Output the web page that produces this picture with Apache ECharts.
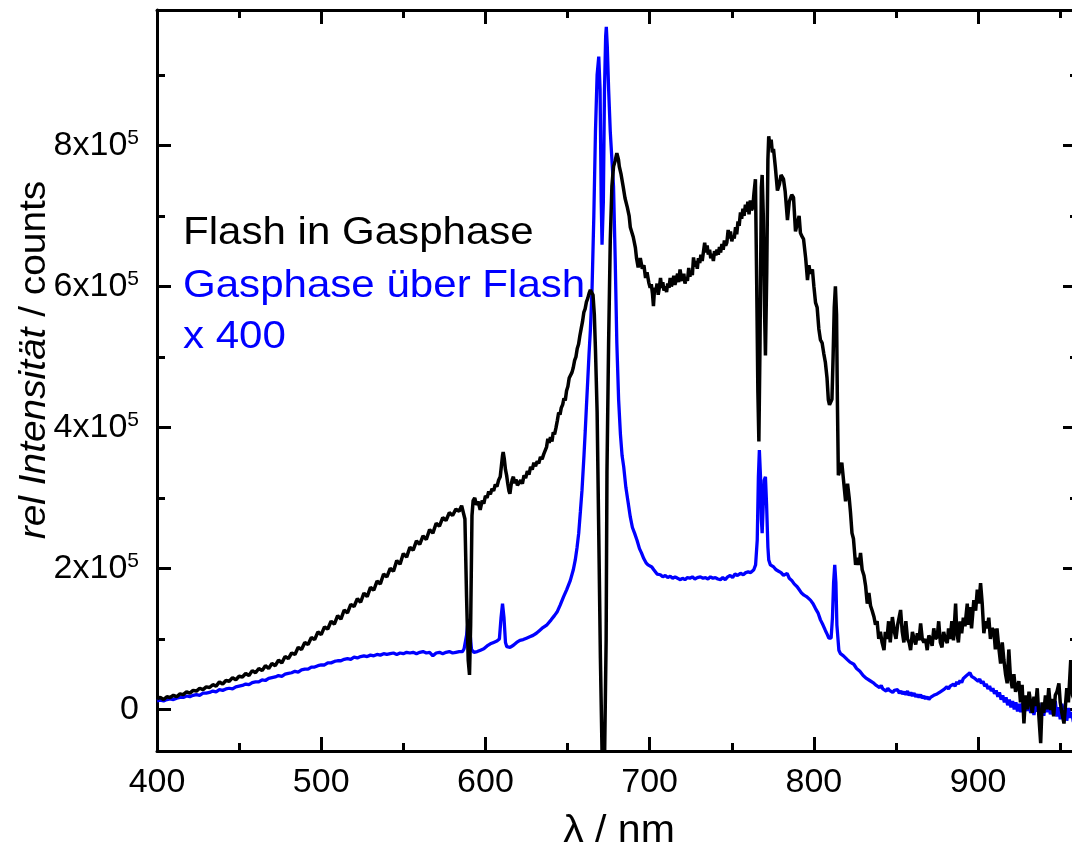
<!DOCTYPE html>
<html>
<head>
<meta charset="utf-8">
<script src="https://cdn.jsdelivr.net/npm/echarts@6/dist/echarts.min.js"></script>
<style>
  html, body { margin: 0; padding: 0; background: #fff; }
  #chart { width: 1072px; height: 855px; }
</style>
</head>
<body>
<div id="chart"></div>
<script>
// Emission spectra, intensity in units of 10^3 counts, wavelength in nm.

// "Flash in Gasphase" (black)
const wlFlash = [
  400,402,404,406,408,410,412,414,416,418,420,422,424,426,428,430,432,434,436,438,440,442,444,446,448,450,452,454,456,458,
  460,462,464,466,468,470,472,474,476,478,480,482,484,486,488,490,492,494,496,498,500,502,504,506,508,510,512,514,516,518,
  520,522,524,526,528,530,532,534,536,538,540,542,544,546,548,550,552,554,556,558,560,562,564,566,568,570,572,574,576,578,
  580,582,584,585.5,586.7,587.5,588.5,589.5,590.3,591,591.8,592.5,593.5,594.5,595.5,596.8,598,599,600,601,602,603,604,605,606,607,608,609,609.7,610.4,
  610.8,611.5,612.2,612.9,613.6,614.3,614.9,615.6,616.3,617,617.8,618.6,619.5,620.5,621.5,622.5,623.5,624.5,625.5,626.5,627.5,628.5,629.5,630.5,631.5,632.5,633.5,634.5,635.5,636.4,
  637.2,638,638.8,639.6,640.5,641.3,642.1,643,643.8,644.6,645.4,646.2,647,647.8,648.6,649.4,650.2,651,651.8,652.7,653.5,654.3,655.1,655.9,656.7,657.5,658.3,659.1,659.9,660.7,
  661.5,662.3,663.1,663.9,664.7,665.5,666.3,667,668,669,670,671,671.8,672.8,673.5,674,675,676,677,678,679,680,681,681.5,682.5,683.9,685,686.4,687.5,688.2,
  690,691.3,692,693,694.3,695.5,696.5,697.5,698.4,699.5,700.3,701,701.7,702.3,703,703.7,704.5,705.2,706,706.6,707.3,708,708.7,709.5,710.3,711,711.8,712.5,713.2,714,
  714.7,715.4,716.2,717,717.7,718.5,719.3,720,720.8,721.5,722.3,723,723.8,724.5,725.3,726,726.7,727.4,728.2,729,729.7,730.5,731.2,732,732.8,733.5,734.2,735,735.7,736.5,
  737.2,738,738.8,739.5,740.3,741,741.8,742.5,743.2,744,744.8,745.5,746.3,747,747.8,748.5,749.2,750,750.8,751.5,752.3,753,753.8,754.5,755.3,756,756.8,757.5,758.3,759,
  759.8,760.5,761.3,762,762.8,763.5,764.4,765.2,765.9,766.5,767.2,768,768.5,769.2,770,770.5,771.3,772,772.5,773.2,774,774.7,775.4,776.5,777.8,779,780,781.5,782.5,783.9,
  785,786.5,787.6,788.8,790,791,791.8,792.5,793.7,795,796.1,797,797.8,799.1,800,801,802,803,804,805,806,807,808,808.8,809.5,810.1,811,811.7,812.4,813.1,
  813.8,814.3,814.9,816,817,818,819.3,820.5,821.5,822.3,823.2,824.1,825.4,826.5,827.5,828.4,829.4,830.5,831.5,832.5,833.5,834.5,835.5,836.6,837.5,838.5,839.5,840.5,841.5,842.7,
  843.5,844.5,845.5,846.5,847.8,849,850,851,852.8,853.8,854.8,856,857,858,858.9,860,861,862,863,864,865,866,867,868,869,870,871,872,873,874,
  875.1,876,877,878,879,880,881.2,882,883,884,885,886.3,887,888,889,890,891,892,893.4,894,895,896,897.4,898.5,899.5,900.5,901.5,902.5,903.5,904.5,
  905.5,906.5,907.5,908.5,909.6,910.5,911.5,912.5,913.7,914.7,915.7,916.7,917.7,918.7,919.7,920.8,921.8,922.8,923.8,924.8,925.8,926.8,927.9,928.9,930,931,932,933,934,935,
  936,937,938.1,939,940,941,942,943,944.2,945,946,947,948,949.2,950,951,952.3,953,954,955,956.4,957.5,959
];
const flashK = [
  15,17,14,18,17,20,18,22,21,25,23,27,26,30,28,32,31,35,33,39,36,41,40,45,42,47,46,51,48,55,
  52,58,55,62,58,65,62,70,66,75,72,80,78,88,85,95,92,102,99,110,106,117,114,125,121,133,128,141,137,149,
  146,157,152,165,160,173,169,182,178,192,188,200,196,211,206,221,216,230,226,239,234,246,241,255,250,264,260,272,268,279,
  275,284,281,289,287,270,160,70,49,120,275,296,300,290,295,283,296,292,303,300,309,305,313,310,319,316,325,330,345,360,
  365,355,340,332,320,310,306,318,326,330,321,326,318,316,325,320,332,328,338,333,344,340,350,345,352,349,358,355,362,363,
  372,384,378,386,380,393,390,400,410,421,418,428,432,441,438,452,458,470,468,478,485,495,500,512,518,530,540,550,563,568,
  578,583,590,595,591,588,560,510,422,250,73,-60,-200,-200,100,336,520,664,742,770,778,789,780,770,760,741,725,712,700,684,
  670,655,640,627,640,625,630,612,620,605,598,603,590,572,598,592,604,588,600,612,598,606,594,600,592,604,598,612,600,606,
  615,602,610,618,606,624,612,608,618,604,612,608,626,614,622,616,641,628,636,625,640,633,645,636,650,662,648,658,645,652,
  640,646,636,650,644,652,645,656,648,660,652,665,658,662,680,668,678,664,672,668,684,674,692,686,705,696,710,700,716,706,
  720,702,722,708,712,732,752,600,450,380,520,740,758,700,560,502,620,780,813,800,808,790,795,770,736,745,758,752,735,694,
  720,730,726,678,690,700,676,672,667,640,609,630,618,624,600,577,570,540,524,520,505,492,470,439,432,431,440,500,570,600,
  560,440,332,340,350,348,295,320,300,279,250,242,205,215,205,222,198,190,175,150,165,147,140,131,120,125,100,110,95,84,
  110,100,125,95,131,110,100,120,141,110,95,125,100,95,84,110,100,92,108,98,122,100,95,100,84,105,100,90,115,100,
  103,125,95,88,110,100,94,115,100,125,98,150,110,95,125,108,130,118,150,120,145,115,155,140,170,150,179,150,108,125,
  115,130,100,115,112,85,115,90,65,95,70,50,37,85,45,30,50,25,23,40,10,35,-20,20,0,25,10,-5,18,5,
  30,-10,-48,10,-5,20,0,30,-1,15,-10,20,25,37,10,-5,-20,0,30,10,70,20,10
];

// "Gasphase über Flash", scaled x 400 (blue)
const wlGas = [
  400,402,404,406,408,410,412,414,416,418,420,422,424,426,428,430,432,434,436,438,440,442,444,446,448,450,452,454,456,458,
  460,462,464,466,468,470,472,474,476,478,480,482,484,486,488,490,492,494,496,498,500,502,504,506,508,510,512,514,516,518,
  520,522,524,526,528,530,532,534,536,538,540,542,544,546,548,550,552,554,556,558,560,562,564,566,568,570,572,574,576,578,
  580,582,584,586,587,588.5,589.5,590.5,591.5,593,595,597,599,601,603,605,607,608.5,609.5,610.4,611.3,612.2,613,615,617,619,621,623,625,627,
  629,631,633,635,637.5,640,642,643.6,645.5,647.6,649.5,651.7,653.5,654.7,655.8,656.8,657.8,658.8,660,660.8,661.5,662.3,663.1,663.9,664.9,666,667,668,669,669.8,
  670.5,671,671.8,672.5,673.2,673.6,674.2,675,676,677,678,679,680,681.1,682.2,683.2,684.2,685.5,686.8,688.2,689.5,690.8,692.3,693.8,695,696.4,697.8,699,700,701.3,
  702.5,703.5,704.5,705.5,706.5,708,709.5,711,712.5,714,715.5,717,718.7,720,721.5,723,724.5,726,727.5,729,730.9,732.5,734,735.5,737,738.5,740,741.5,743.1,744.5,
  746,747.5,749,750.5,752,753.5,755.3,757,758.5,760,761.5,763.4,764.5,765.5,766.2,766.8,767.5,768,768.5,769,769.7,770.5,771.2,772,772.5,773.5,775.5,777,778.5,780,
  781.5,783.7,785,786.5,788,789.8,791,792.5,794,795.5,797.9,799.5,801,802.5,804,805.5,807,808.2,809.1,810.5,811.3,812,812.7,813.4,814,815.2,816.2,817,818,819,
  820.2,821,822,823,824.3,825.2,826,827,828,829,830,831,832,833,834,835,836,837,838,839,840,841,842,843,844,845,846,847,848,849,
  850,851,852,853,854,855,856,857,858,859,860,861,862,863,864,865,866,867,868,869,870,871,872,873,874,875,876,877,878,879,
  880,881,882,883,884,885,886,887,888,889,890,891,892,893,894,895,896,897,898,899,900,901,902,903,904,905,906,907,908,909,
  910,911,912,913,914,915,916,917,918,919,920,921,922,923,924,925,926,927,928,929,930,931,932,933,934,935,936,937,938,939,
  940,941,942,943,944,945,946,947,948,949,950,951,952,953,954,955,956,957,958,959
];
const gasK = [
  12,13,12,14,15,14,16,17,17,19,18,20,21,20,23,23,24,26,25,28,27,29,30,29,32,33,34,36,35,38,
  39,39,42,41,44,45,46,48,47,50,51,52,54,53,56,57,57,60,60,62,63,63,66,66,68,69,69,71,72,71,
  74,73,75,76,75,77,76,78,77,79,78,79,80,78,80,79,81,80,81,79,81,82,80,81,76,80,81,79,81,82,
  80,81,82,82,86,105,128,112,85,81,82,84,86,90,93,95,97,100,130,150,130,95,89,88,91,95,98,99,101,103,
  105,108,112,116,120,127,133,138,148,160,170,183,198,212,230,250,280,311,360,396,430,467,505,538,595,700,820,900,926,880,
  720,659,720,880,955,968,940,880,820,780,741,640,520,439,390,360,344,315,295,273,258,250,240,228,222,214,208,205,203,202,
  198,196,192,190,191,188,190,187,189,186,188,186,184,186,184,187,186,188,185,187,188,186,187,185,188,186,187,185,184,187,
  184,188,190,187,192,190,193,191,194,195,194,198,205,240,330,368,330,270,250,280,325,330,290,230,212,205,202,198,196,194,
  190,193,186,183,178,174,170,165,162,160,155,150,143,137,127,120,112,106,101,101,130,180,205,180,120,84,79,81,76,78,
  71,73,67,69,64,66,58,60,54,55,48,50,44,46,41,43,38,40,34,36,31,34,29,31,26,30,27,29,24,27,
  25,28,23,26,22,25,21,26,20,24,19,23,18,21,17,21,16,19,15,18,14,17,16,20,18,22,21,25,23,28,
  26,32,29,33,31,36,33,39,36,41,38,44,42,48,46,52,47,49,44,46,40,43,37,40,33,36,29,33,26,30,
  22,27,18,24,14,20,10,17,6,14,3,12,0,10,-3,8,-4,9,-6,6,-2,10,-5,5,-8,7,-3,9,-6,4,
  -9,8,-4,10,-7,6,-2,12,-10,3,-14,8,-6,5,-16,2,-12,-4,-18,-6
];

// Tick positions
const xMajor = [400, 500, 600, 700, 800, 900];
const xMinor = [450, 550, 650, 750, 850, 950];
const yMajor = [0, 200, 400, 600, 800];
const yMinor = [100, 300, 500, 700, 900];

const X_MIN = 400, X_MAX = 959;
const Y_MIN = -59, Y_MAX = 992;
const FONT = '"Liberation Sans", Arial, sans-serif';
const TICK_STYLE = { color: '#000', width: 3 };

function pairs(xs, ys) { return xs.map((x, i) => [x, ys[i]]); }

// An axis that only draws a set of tick marks
function tickAxis(position, min, max, values, length) {
  return {
    type: 'value', gridIndex: 0, position, min, max,
    axisLine: { show: false, onZero: false },
    splitLine: { show: false },
    axisLabel: { show: false },
    axisTick: { show: true, inside: true, length, customValues: values, lineStyle: TICK_STYLE }
  };
}

// A framed axis with major ticks
function frameAxis(position, min, max, values, length, label) {
  return {
    type: 'value', gridIndex: 0, position, min, max,
    axisLine: { show: true, onZero: false, lineStyle: { color: '#000', width: 3 } },
    axisTick: { show: true, inside: true, length, customValues: values, lineStyle: TICK_STYLE },
    axisLabel: label || { show: false },
    splitLine: { show: false }
  };
}

const chart = echarts.init(document.getElementById('chart'), null, { renderer: 'canvas' });

chart.setOption({
  animation: false,
  backgroundColor: '#fff',
  grid: { left: 157, top: 10, width: 918, height: 741, containLabel: false, outerBoundsMode: 'none' },
  xAxis: [
    frameAxis('bottom', X_MIN, X_MAX, xMajor, 14,
      { show: true, customValues: xMajor, margin: 15, color: '#000', fontSize: 34, fontFamily: FONT }),
    tickAxis('bottom', X_MIN, X_MAX, xMinor, 8),
    frameAxis('top', X_MIN, X_MAX, xMajor, 14),
    tickAxis('top', X_MIN, X_MAX, xMinor, 8)
  ],
  yAxis: [
    frameAxis('left', Y_MIN, Y_MAX, yMajor, 14, {
      show: true, customValues: yMajor, margin: 18, color: '#000',
      formatter: v => v === 0 ? '{b|0}' : '{b|' + (v / 100) + 'x10}{s|5}',
      rich: {
        b: { fontSize: 34, fontFamily: FONT, color: '#000', lineHeight: 36 },
        s: { fontSize: 21, fontFamily: FONT, color: '#000', verticalAlign: 'top', lineHeight: 20 }
      }
    }),
    tickAxis('left', Y_MIN, Y_MAX, yMinor, 8),
    frameAxis('right', Y_MIN, Y_MAX, yMajor, 12),
    tickAxis('right', Y_MIN, Y_MAX, yMinor, 5)
  ],
  graphic: [
    {
      type: 'text', x: 35, y: 360, rotation: Math.PI / 2, scaleX: 1.05,
      style: {
        text: '{i|rel Intensität} / counts',
        fontSize: 37, fontFamily: FONT, fill: '#000',
        align: 'center', verticalAlign: 'middle',
        rich: { i: { fontSize: 37, fontFamily: FONT, fontStyle: 'italic', fill: '#000' } }
      }
    },
    {
      type: 'text', x: 619, y: 832, scaleX: 1.08,
      style: { text: 'λ / nm', fontSize: 38, fontFamily: FONT, fill: '#000', align: 'center', verticalAlign: 'middle' }
    },
    { type: 'text', x: 183, y: 233, scaleX: 1.065, style: { text: 'Flash in Gasphase', fontSize: 39.5, fontFamily: FONT, fill: '#000', verticalAlign: 'middle' } },
    { type: 'text', x: 183, y: 286, scaleX: 1.065, style: { text: 'Gasphase über Flash', fontSize: 39.5, fontFamily: FONT, fill: '#0000ff', verticalAlign: 'middle' } },
    { type: 'text', x: 183, y: 337, scaleX: 1.065, style: { text: 'x 400', fontSize: 39.5, fontFamily: FONT, fill: '#0000ff', verticalAlign: 'middle' } }
  ],
  series: [
    {
      name: 'Gasphase über Flash x 400', type: 'line', xAxisIndex: 0, yAxisIndex: 0,
      data: pairs(wlGas, gasK), showSymbol: false, symbol: 'none', clip: true,
      lineStyle: { color: '#0000ff', width: 3.3 }, silent: true
    },
    {
      name: 'Flash in Gasphase', type: 'line', xAxisIndex: 0, yAxisIndex: 0,
      data: pairs(wlFlash, flashK), showSymbol: false, symbol: 'none', clip: true,
      lineStyle: { color: '#000', width: 3.5 }, silent: true
    }
  ]
});
</script>
</body>
</html>
